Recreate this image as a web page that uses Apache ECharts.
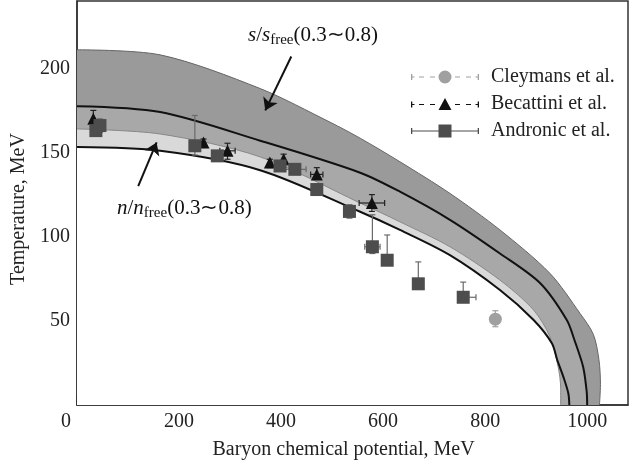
<!DOCTYPE html>
<html>
<head>
<meta charset="utf-8">
<script src="https://cdn.jsdelivr.net/npm/echarts@6/dist/echarts.min.js"></script>
<style>
  html, body { margin: 0; padding: 0; background: #fff; }
  #chart { width: 629px; height: 466px; }
</style>
</head>
<body>
<div id="chart"></div>
<script>
// band edges, [mu, T] in MeV
var sUpper = [[0, 211], [163, 208], [359, 188], [496, 168], [555, 158.5], [633, 144.5], [731, 125.7],
  [829, 104], [927, 78.2], [986, 54.4], [1012, 42], [1023, 27], [1026, 12], [1024, 0]];
var nUpper = [[0, 177.5], [163, 174], [359, 157], [555, 138], [633, 126.7], [731, 110], [829, 90],
  [908, 72.3], [960, 50.5], [975, 38.6], [992, 22.7], [999, 8], [1000, 0]];
var sLower = [[0, 164], [163, 161], [359, 147.4], [555, 120], [633, 108.8], [731, 94], [829, 74.2],
  [895, 56.4], [927, 40.6], [943, 22.7], [948, 10], [948, 0]];
var nLower = [[0, 153.2], [163, 151], [359, 139.5], [555, 114.8], [633, 104], [731, 89], [829, 68.3],
  [895, 50.5], [931, 36.6], [941, 27], [953, 17], [963, 7], [965, 0]];

// freeze-out points: [mu, T, Tlow, Thigh, muLow, muHigh]
var cleymans = [[820, 51, 46.5, 56, 820, 820]];
var becattini = [
  [32, 170, 167, 175, 32, 32], [248, 156, 153, 158, 248, 248], [295, 151, 146, 155.5, 280, 310],
  [378, 144, 141, 146, 378, 378], [405, 146, 143, 149, 405, 405], [470, 137, 134, 141, 458, 482],
  [578, 120, 115, 125, 553, 603]
];
var andronic = [
  [37, 163, 160, 166, 37, 37], [45, 166, 162, 170, 45, 45], [231, 154, 148.5, 172, 231, 231],
  [275, 148, 145, 151, 275, 275], [398, 142, 140, 145, 398, 398], [427, 140, 138, 142, 407, 449],
  [470, 128, 125, 131, 470, 470], [534, 115, 111, 119, 524, 544], [579, 94, 90, 113, 564, 594],
  [608, 86, 83, 101, 608, 608], [669, 72, 69, 85, 669, 669], [757, 64, 61, 73, 757, 782]
];

var serif = 'Liberation Serif';
var smooth = 0.3;

function segCross(a, b, c, d) {
  var rx = b[0] - a[0], ry = b[1] - a[1], sx = d[0] - c[0], sy = d[1] - c[1];
  var den = rx * sy - ry * sx;
  if (den === 0) return null;
  var t = ((c[0] - a[0]) * sy - (c[1] - a[1]) * sx) / den;
  var u = ((c[0] - a[0]) * ry - (c[1] - a[1]) * rx) / den;
  if (t < 0 || t > 1 || u < 0 || u > 1) return null;
  return [a[0] + t * rx, a[1] + t * ry];
}
// inner edge of two curves: follow the first until it crosses the second
function innerEdge(first, second) {
  for (var i = 0; i < first.length - 1; i++) {
    for (var j = 0; j < second.length - 1; j++) {
      var p = segCross(first[i], first[i + 1], second[j], second[j + 1]);
      if (p) return first.slice(0, i + 1).concat([p], second.slice(j + 1));
    }
  }
  return first;
}

function area(data, color) {
  return {
    type: 'line', data: data, smooth: smooth, symbol: 'none', silent: true, z: 1,
    lineStyle: { opacity: 0 }, areaStyle: { color: color, opacity: 1 }
  };
}
function edge(data, color, width) {
  return {
    type: 'line', data: data, smooth: smooth, symbol: 'none', silent: true, z: 2,
    lineStyle: { color: color, width: width }
  };
}
function errorBars(data, color, z) {
  return {
    type: 'custom', data: data, encode: { x: 0, y: 1 }, silent: true, z: z,
    renderItem: function (params, api) {
      var c = api.coord([api.value(0), api.value(1)]);
      var lo = api.coord([api.value(0), api.value(2)]);
      var hi = api.coord([api.value(0), api.value(3)]);
      var l = api.coord([api.value(4), api.value(1)]);
      var r = api.coord([api.value(5), api.value(1)]);
      var cap = 3, st = { stroke: color, lineWidth: 1.2 };
      var kids = [
        { type: 'line', shape: { x1: c[0], y1: lo[1], x2: c[0], y2: hi[1] }, style: st },
        { type: 'line', shape: { x1: c[0] - cap, y1: lo[1], x2: c[0] + cap, y2: lo[1] }, style: st },
        { type: 'line', shape: { x1: c[0] - cap, y1: hi[1], x2: c[0] + cap, y2: hi[1] }, style: st }
      ];
      if (r[0] - l[0] > 1) {
        kids.push({ type: 'line', shape: { x1: l[0], y1: c[1], x2: r[0], y2: c[1] }, style: st });
        kids.push({ type: 'line', shape: { x1: l[0], y1: c[1] - cap, x2: l[0], y2: c[1] + cap }, style: st });
        kids.push({ type: 'line', shape: { x1: r[0], y1: c[1] - cap, x2: r[0], y2: c[1] + cap }, style: st });
      }
      return { type: 'group', children: kids };
    }
  };
}
function xy(data) {
  return data.map(function (d) { return [d[0], d[1]]; });
}

// legend icons: error-bar line with marker in the middle
var caps = 'M0 3.5h1.3v6h-1.3Z M66.7 3.5h1.3v6h-1.3Z ';
var dashes = 'M0 5.9h3.5v1.2h-3.5Z M8 5.9h5v1.2h-5Z M19 5.9h5v1.2h-5Z M44 5.9h5v1.2h-5Z M55 5.9h5v1.2h-5Z M64.5 5.9h3.5v1.2h-3.5Z ';
var iconC = 'path://' + caps + dashes + 'M27.5 6.5a6.5 6.5 0 1 0 13 0a6.5 6.5 0 1 0 -13 0Z';
var iconB = 'path://' + caps + dashes + 'M34 0L40.5 12L27.5 12Z';
var iconA = 'path://' + caps + 'M0 5.9h27.5v1.2h-27.5Z M40.5 5.9h27.5v1.2h-27.5Z M27.5 0h13v13h-13Z';

var labelRich = {
  i: { fontFamily: serif, fontSize: 21, lineHeight: 26, fontStyle: 'italic' },
  b: { fontFamily: serif, fontSize: 15, lineHeight: 15, padding: [11, 0, 0, 0] }
};

var chart = echarts.init(document.getElementById('chart'));

var option = {
  animation: false,
  grid: {
    left: 77, right: 1, top: 1, bottom: 61, outerBoundsMode: 'none',
    show: true, borderColor: '#333', borderWidth: 1.5
  },
  xAxis: {
    type: 'value', min: 0, max: 1080, interval: 200,
    name: 'Baryon chemical potential, MeV', nameLocation: 'middle', nameGap: 35,
    nameTextStyle: { fontFamily: serif, fontSize: 20, color: '#222', padding: [0, 18, 0, 0] },
    axisLine: { show: true, lineStyle: { color: '#333', width: 1.5 } },
    axisTick: { show: true, inside: true, length: 10, lineStyle: { color: '#333', width: 1.5 } },
    axisLabel: {
      fontFamily: serif, fontSize: 20, color: '#222', margin: 7, showMaxLabel: false,
      formatter: function (v) { return v === 0 ? '{z|0}' : String(v); },
      rich: { z: { fontFamily: serif, fontSize: 20, color: '#222', padding: [0, 22, 0, 0] } }
    },
    splitLine: { show: false }
  },
  yAxis: {
    type: 'value', min: 0, max: 240, interval: 50,
    name: 'Temperature, MeV', nameLocation: 'middle', nameGap: 44,
    nameTextStyle: { fontFamily: serif, fontSize: 20, color: '#222', padding: [0, 12, 0, 0] },
    axisLine: { show: true, lineStyle: { color: '#333', width: 1.5 } },
    axisTick: { show: true, inside: true, length: 10, lineStyle: { color: '#333', width: 1.5 } },
    axisLabel: { fontFamily: serif, fontSize: 20, color: '#222', margin: 7, showMinLabel: false, showMaxLabel: false },
    splitLine: { show: false }
  },
  legend: {
    orient: 'vertical', left: 406, top: 62, itemWidth: 68, itemHeight: 13, itemGap: 7,
    selectedMode: false,
    textStyle: { fontFamily: serif, fontSize: 20, color: '#222', padding: [0, 0, 0, 7] },
    data: [
      { name: 'Cleymans et al.', icon: iconC, itemStyle: { color: '#a0a0a0', opacity: 1 } },
      { name: 'Becattini et al.', icon: iconB, itemStyle: { color: '#111', opacity: 1 } },
      { name: 'Andronic et al.', icon: iconA, itemStyle: { color: '#4d4d4d', opacity: 1 } }
    ]
  },
  graphic: [
    {
      type: 'text', left: 248, top: 22, z: 10,
      style: {
        text: '{i|s}/{i|s}{b|free}(0.3∼0.8)',
        fontFamily: serif, fontSize: 21, lineHeight: 26, fill: '#111', rich: labelRich
      }
    },
    {
      type: 'text', left: 117, top: 195, z: 10,
      style: {
        text: '{i|n}/{i|n}{b|free}(0.3∼0.8)',
        fontFamily: serif, fontSize: 21, lineHeight: 26, fill: '#111', rich: labelRich
      }
    }
  ],
  series: [
    area(sUpper, '#9a9a9a'),
    area(nUpper, '#a8a8a8'),
    area(sLower, '#d9d9d9'),
    area(innerEdge(nLower, sLower), '#ffffff'),
    edge(sUpper, '#666', 1),
    edge(sLower, '#888', 1),
    edge(nUpper, '#111', 2),
    Object.assign(edge(nLower, '#111', 2), {
      markLine: {
        silent: true, symbol: ['none', 'arrow'], symbolSize: 12,
        label: { show: false },
        lineStyle: { color: '#111', width: 2, type: 'solid' },
        data: [
          [{ coord: [420, 207] }, { coord: [369, 175] }],
          [{ coord: [120, 130] }, { coord: [156, 156] }]
        ]
      }
    }),
    errorBars(becattini, '#222', 4),
    { name: 'Becattini et al.', type: 'scatter', data: xy(becattini), symbol: 'triangle', symbolSize: 12,
      z: 5, itemStyle: { color: '#111', opacity: 1 } },
    errorBars(andronic, '#6a6a6a', 6),
    { name: 'Andronic et al.', type: 'scatter', data: xy(andronic), symbol: 'rect', symbolSize: 13,
      z: 7, itemStyle: { color: '#4d4d4d', opacity: 1 } },
    errorBars(cleymans, '#a0a0a0', 6),
    { name: 'Cleymans et al.', type: 'scatter', data: xy(cleymans), symbol: 'circle', symbolSize: 13,
      z: 7, itemStyle: { color: '#a0a0a0', opacity: 1 } }
  ]
};

chart.setOption(option);
</script>
</body>
</html>
